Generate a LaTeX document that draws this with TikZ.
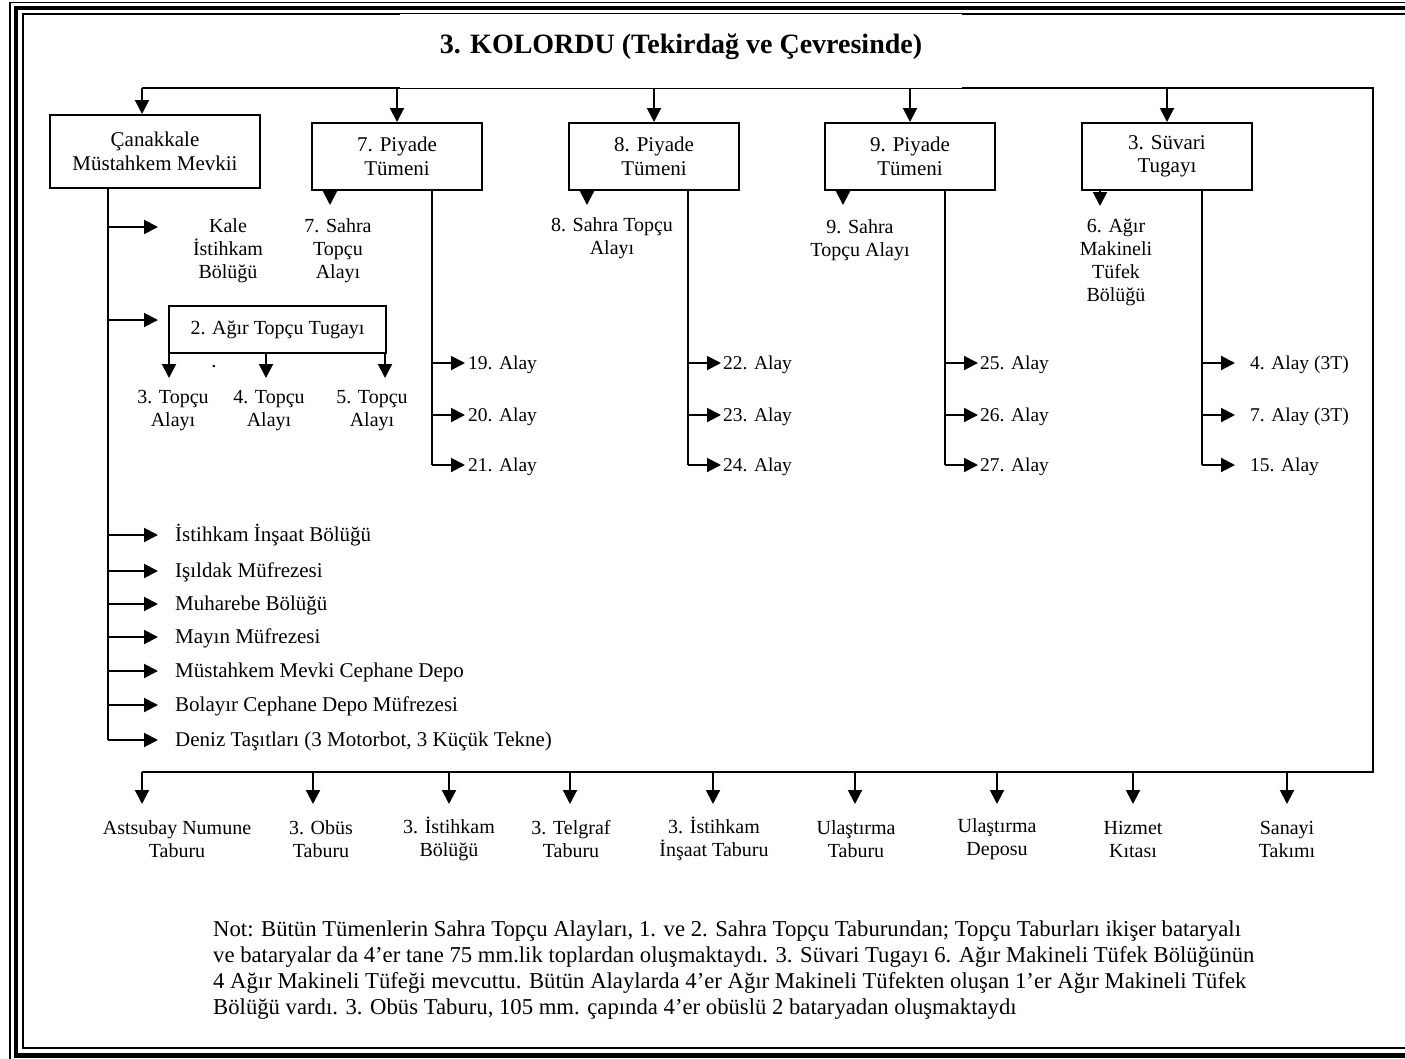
\documentclass[tikz,border=0pt]{standalone}
\usepackage{fontspec}
\setmainfont{Liberation Serif}
\usetikzlibrary{arrows.meta}
\begin{document}
\begin{tikzpicture}[x=1pt,y=-1pt,
  every node/.style={inner sep=0pt, font=\fontsize{21}{23.5}\selectfont},
  box/.style={draw, line width=2pt, align=center, minimum width=170pt, minimum height=67pt},
  lbl/.style={align=center, font=\fontsize{20}{23}\selectfont},
  one/.style={anchor=west, text height=14pt, text depth=5pt},
  alay/.style={anchor=west, text height=13pt, text depth=4.5pt, font=\fontsize{19.5}{22}\selectfont},
  ln/.style={line width=2pt},
  arr/.style={line width=2pt, -{Triangle[length=14pt,width=14pt]}},
]
\useasboundingbox (0,0) rectangle (1405,1058);
\clip (0,0) rectangle (1405,1058);
% page frame (right side lies beyond the page)
\draw[line width=1.6pt] (1440,2.4) -- (10.2,2.4) -- (10.2,1062) -- (1440,1062);
\draw[line width=4.5pt] (1440,8) -- (15.8,8) -- (15.8,1055.7) -- (1440,1055.7);
\draw[line width=1.8pt] (1440,14.3) -- (23,14.3) -- (23,1047.7) -- (1440,1047.7);

% boxes
\node[box, minimum width=210pt, minimum height=73pt] (cmm) at (155,151.5) {Çanakkale\\Müstahkem Mevkii};
\node[box] (p7) at (397,156.5) {7. Piyade\\Tümeni};
\node[box] (p8) at (654,156.5) {8. Piyade\\Tümeni};
\node[box] (p9) at (910,156.5) {9. Piyade\\Tümeni};
\node[box] (s3) at (1167,156.5) {3. Süvari\\Tugayı};

% main bus
\coordinate (tl) at (142,88);
\coordinate (tr) at (1373,88);
\coordinate (br) at (1373,772);
\coordinate (bl) at (142,772);
\draw[ln] (tl) -- (tr) -- (br) -- (bl);
\draw[arr] (tl) -- (tl |- cmm.north);
\foreach \n in {p7,p8,p9,s3} \draw[arr] (\n.north |- tl) -- (\n.north);

% title with white backing
\fill[white] (400,14.3) rectangle (962,88);
\node[font=\bfseries\fontsize{28}{32}\selectfont, anchor=base] (title) at (681,53) {3. KOLORDU (Tekirdağ ve Çevresinde)};

% small down arrows under divisions
\coordinate (a7) at (330,205);
\coordinate (a8) at (587,205);
\coordinate (a9) at (843,205);
\coordinate (as) at (1100,206);
\draw[arr] (a7 |- p7.south) -- (a7);
\draw[arr] (a8 |- p8.south) -- (a8);
\draw[arr] (a9 |- p9.south) -- (a9);
\draw[arr] (as |- s3.south) -- (as);
\node[lbl] (s7) at (338,251) {7. Sahra\\Topçu\\Alayı};
\node[lbl] (s8) at (612,238) {8. Sahra Topçu\\Alayı};
\node[lbl] (s9) at (860,240) {9. Sahra\\Topçu Alayı};
\node[lbl] (amt) at (1116,262) {6. Ağır\\Makineli\\Tüfek\\Bölüğü};

% regiment columns
\coordinate (v7) at (432,465);
\coordinate (v8) at (688,465);
\coordinate (v9) at (945,465);
\coordinate (vs) at (1202,465);
\draw[ln] (v7 |- p7.south) -- (v7);
\draw[ln] (v8 |- p8.south) -- (v8);
\draw[ln] (v9 |- p9.south) -- (v9);
\draw[ln] (vs |- s3.south) -- (vs);
\foreach \c/\x in {v7/432,v8/688,v9/945,vs/1202}{
  \draw[arr] (\x,363) -- (\x+33,363);
  \draw[arr] (\x,415) -- (\x+33,415);
  \draw[arr] (\c) -- (\x+33,465);
}
\node[alay] (r19) at (468,365) {19. Alay};
\node[alay] (r20) at (468,417) {20. Alay};
\node[alay] (r21) at (468,467) {21. Alay};
\node[alay] (r22) at (723,365) {22. Alay};
\node[alay] (r23) at (723,417) {23. Alay};
\node[alay] (r24) at (723,467) {24. Alay};
\node[alay] (r25) at (980,365) {25. Alay};
\node[alay] (r26) at (980,417) {26. Alay};
\node[alay] (r27) at (980,467) {27. Alay};
\node[alay] (r4) at (1250,365) {4. Alay (3T)};
\node[alay] (r7) at (1250,417) {7. Alay (3T)};
\node[alay] (r15) at (1250,467) {15. Alay};

% Canakkale trunk
\coordinate (cb) at (108,740);
\draw[ln] (cb |- cmm.south) -- (cb);
\foreach \y in {227,320,535,571,604,637,671,705} \draw[arr] (108,\y) -- (158,\y);
\draw[arr] (cb) -- (158,740);
\node[lbl] (kale) at (228,251) {Kale\\İstihkam\\Bölüğü};
\node[draw, line width=2pt, minimum width=217pt, minimum height=47pt, font=\fontsize{20}{23}\selectfont] (att) at (277.5,329.5) {2. Ağır Topçu Tugayı};
\coordinate (t3) at (169,378);
\coordinate (t4) at (266,378);
\coordinate (t5) at (385,378);
\draw[arr] (t3 |- att.south) -- (t3);
\draw[arr] (t4 |- att.south) -- (t4);
\draw[arr] (t5 |- att.south) -- (t5);
\node (dot) at (214,367) {.};
\node[lbl] (ta3) at (173,411) {3. Topçu\\Alayı};
\node[lbl] (ta4) at (269,411) {4. Topçu\\Alayı};
\node[lbl] (ta5) at (372,411) {5. Topçu\\Alayı};
\node[one] (l1) at (175,536.5) {İstihkam İnşaat Bölüğü};
\node[one] (l2) at (175,572.5) {Işıldak Müfrezesi};
\node[one] (l3) at (175,605.5) {Muharebe Bölüğü};
\node[one] (l4) at (175,638.5) {Mayın Müfrezesi};
\node[one] (l5) at (175,672.5) {Müstahkem Mevki Cephane Depo};
\node[one] (l6) at (175,706.5) {Bolayır Cephane Depo Müfrezesi};
\node[one] (l7) at (175,741.5) {Deniz Taşıtları (3 Motorbot, 3 Küçük Tekne)};

% bottom units
\foreach \x in {142,313,449,570,713,855,997,1133,1287} \draw[arr] (\x,772) -- (\x,804);
\node[lbl] (b1) at (177,839) {Astsubay Numune\\Taburu};
\node[lbl] (b2) at (321,839) {3. Obüs\\Taburu};
\node[lbl] (b3) at (449,839) {3. İstihkam\\Bölüğü};
\node[lbl] (b4) at (571,839) {3. Telgraf\\Taburu};
\node[lbl] (b5) at (714,839) {3. İstihkam\\İnşaat Taburu};
\node[lbl] (b6) at (856,839) {Ulaştırma\\Taburu};
\node[lbl] (b7) at (997,839) {Ulaştırma\\Deposu};
\node[lbl] (b8) at (1133,839) {Hizmet\\Kıtası};
\node[lbl] (b9) at (1287,839) {Sanayi\\Takımı};

% note
\node[anchor=west, align=left, font=\fontsize{22.7}{26}\selectfont] (note) at (213,970) {Not: Bütün Tümenlerin Sahra Topçu Alayları, 1. ve 2. Sahra Topçu Taburundan; Topçu Taburları ikişer bataryalı\\ve bataryalar da 4’er tane 75 mm.lik toplardan oluşmaktaydı. 3. Süvari Tugayı 6. Ağır Makineli Tüfek Bölüğünün\\4 Ağır Makineli Tüfeği mevcuttu. Bütün Alaylarda 4’er Ağır Makineli Tüfekten oluşan 1’er Ağır Makineli Tüfek\\Bölüğü vardı. 3. Obüs Taburu, 105 mm. çapında 4’er obüslü 2 bataryadan oluşmaktaydı};
\end{tikzpicture}
\end{document}
